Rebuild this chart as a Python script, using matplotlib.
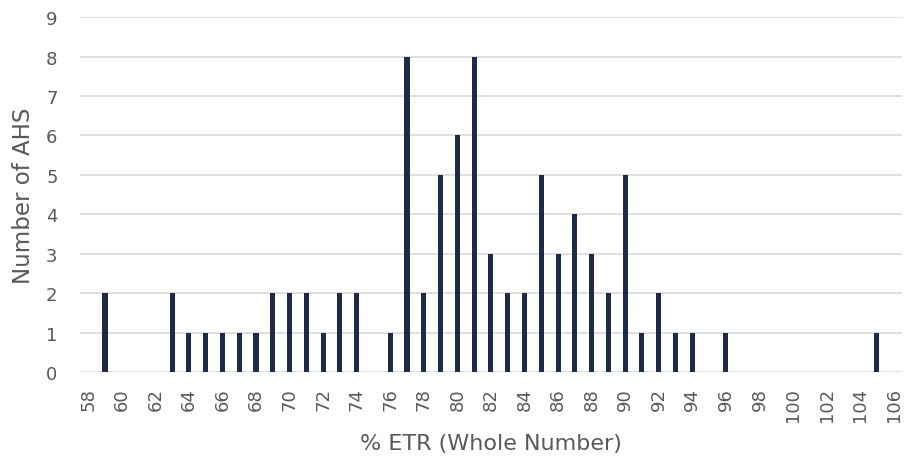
import matplotlib
matplotlib.use("Agg")
import matplotlib.pyplot as plt

# Histogram of % ETR (whole number) across AHS
etr_values = list(range(58, 107))
ahs_counts = [
    0, 2, 0, 0, 0, 2, 1, 1, 1, 1,   # 58-67
    1, 2, 2, 2, 1, 2, 2, 0, 1, 8,   # 68-77
    2, 5, 6, 8, 3, 2, 2, 5, 3, 4,   # 78-87
    3, 2, 5, 1, 2, 1, 1, 0, 1, 0,   # 88-97
    0, 0, 0, 0, 0, 0, 0, 1, 0,      # 98-106
]
y_ticks = list(range(0, 10))
x_tick_labels = [str(v) for v in etr_values[::2]]

bar_color = "#1f2b46"
text_color = "#595959"
grid_color = "#d9d9d9"

plt.rcParams["font.family"] = ["DejaVu Sans"]

fig = plt.figure(figsize=(9.07, 4.64), dpi=100)
ax = fig.add_axes([0.088, 0.196, 0.9065, 0.765])

ax.bar(etr_values, ahs_counts, width=0.3, color=bar_color, zorder=3)

ax.set_xlim(etr_values[0] - 0.5, etr_values[-1] + 0.5)
ax.set_ylim(0, 9)
ax.set_yticks(y_ticks)
ax.set_xticks(etr_values[::2])
ax.set_xticklabels(x_tick_labels, rotation=90)

ax.yaxis.grid(True, color=grid_color, linewidth=1.2, zorder=0)
ax.set_axisbelow(True)
for side in ["top", "right", "left", "bottom"]:
    ax.spines[side].set_visible(False)
ax.tick_params(axis="both", length=0, labelsize=13, colors=text_color)
ax.tick_params(axis="x", pad=11)
ax.tick_params(axis="y", pad=16)

ax.set_xlabel("% ETR (Whole Number)", fontsize=16, color=text_color, labelpad=8)
ax.set_ylabel("Number of AHS", fontsize=16.5, color=text_color, labelpad=8)

fig.savefig("out.png", dpi=100)
